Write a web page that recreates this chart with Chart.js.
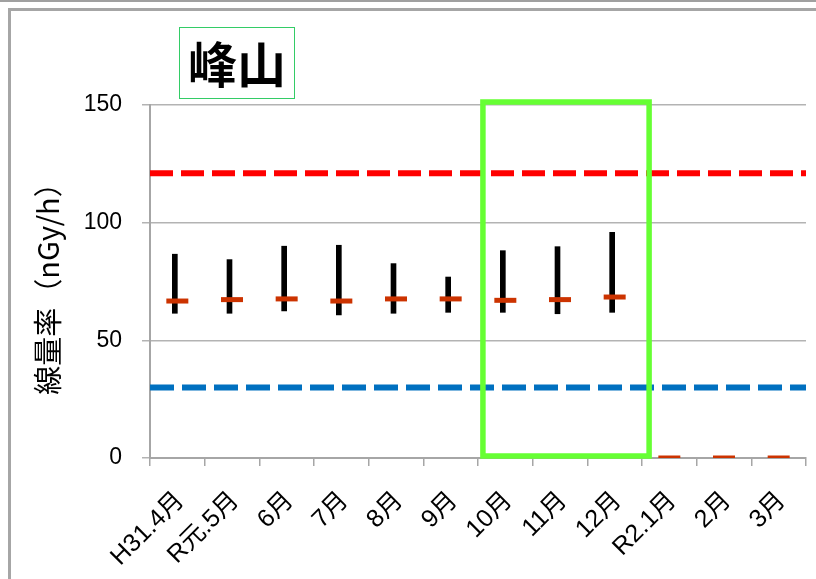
<!DOCTYPE html>
<html>
<head>
<meta charset="utf-8">
<script src="https://cdn.jsdelivr.net/npm/chart.js@4.4.1/dist/chart.umd.min.js"></script>
<style>
  html, body { margin: 0; padding: 0; background: #fff; }
  body { width: 816px; height: 579px; position: relative; overflow: hidden; }
  #wrap { position: absolute; left: 0; top: 0; width: 822px; height: 579px; }
  #topline { position: absolute; left: 0; top: 0; width: 816px; height: 2px; background: #a0a0a0; }
  #frame { position: absolute; left: 8px; top: 8px; width: 900px; height: 700px;
           border-left: 3px solid #a6a6a6; border-top: 3px solid #a6a6a6; }
  #titlebox { position: absolute; left: 179px; top: 27px; width: 114px; height: 70px;
              border: 1.5px solid #33cc66; background: #fff;
              font-family: "Noto Sans CJK JP", sans-serif; font-weight: bold; font-size: 49px;
              line-height: 68px; text-align: center; color: #000; }
</style>
</head>
<body>
<div id="topline"></div>
<div id="frame"></div>
<div id="wrap"><canvas id="c" width="822" height="579"></canvas></div>
<div id="titlebox">峰山</div>
<script>
const categories = ['H31.4月','R元.5月','6月','7月','8月','9月','10月','11月','12月','R2.1月','2月','3月'];
const minValues  = [61.5, 61.5, 62.5, 60.8, 61.5, 61.9, 61.9, 61.3, 61.9, null, null, null];
const maxValues  = [86.6, 84.3, 90.0, 90.4, 82.6, 76.9, 88.1, 89.8, 95.9, null, null, null];
const avgValues  = [66.7, 67.3, 67.6, 66.7, 67.6, 67.6, 67.0, 67.3, 68.4, 0, 0, 0];
const upperLevel = 121;
const lowerLevel = 30;
const yTicks = [0, 50, 100, 150];
const highlightFrom = '10月';
const highlightTo = '12月';
const chartTitle = '峰山';
const yTitle = '線量率（nGy/h）';

const rangeData = categories.map((c, i) => (minValues[i] == null ? null : [minValues[i], maxValues[i]]));

const highlightPlugin = {
  id: 'highlight',
  afterDatasetsDraw(chart) {
    const x = chart.scales.x, y = chart.scales.y;
    const i0 = categories.indexOf(highlightFrom), i1 = categories.indexOf(highlightTo);
    const w = x.getPixelForValue(1) - x.getPixelForValue(0);
    const left = x.getPixelForValue(i0) - 0.41 * w;
    const right = x.getPixelForValue(i1) + 0.63 * w;
    const top = y.getPixelForValue(yTicks[yTicks.length - 1]) - 3;
    const bottom = y.getPixelForValue(0) - 2;
    const ctx = chart.ctx;
    ctx.save();
    ctx.strokeStyle = '#66ff33';
    ctx.lineWidth = 5.5;
    ctx.strokeRect(left, top, right - left, bottom - top);
    ctx.restore();
  }
};

new Chart(document.getElementById('c'), {
  data: {
    labels: categories,
    datasets: [
      {
        type: 'line',
        label: '平均',
        data: avgValues,
        showLine: false,
        pointStyle: 'line',
        pointRadius: 11,
        pointHoverRadius: 11,
        pointBorderWidth: 5,
        borderColor: '#cc3300',
        backgroundColor: '#cc3300',
        clip: 0,
        order: 0
      },
      {
        type: 'bar',
        label: '範囲',
        data: rangeData,
        backgroundColor: '#000000',
        barThickness: 5,
        borderSkipped: false,
        order: 1
      },
      {
        type: 'line',
        label: '上限',
        xAxisID: 'x2',
        data: [{x: 0, y: upperLevel}, {x: 1, y: upperLevel}],
        borderColor: '#ff0000',
        borderWidth: 6,
        borderDash: [23, 8],
        borderCapStyle: 'butt',
        pointRadius: 0,
        order: 2
      },
      {
        type: 'line',
        label: '下限',
        xAxisID: 'x2',
        data: [{x: 0, y: lowerLevel}, {x: 1, y: lowerLevel}],
        borderColor: '#0070c0',
        borderWidth: 6,
        borderDash: [24, 8],
        borderCapStyle: 'butt',
        pointRadius: 0,
        order: 2
      }
    ]
  },
  options: {
    responsive: false,
    animation: false,
    devicePixelRatio: 1,
    layout: { padding: { top: 105, right: 0, left: 0, bottom: 0 } },
    plugins: {
      legend: { display: false },
      tooltip: { enabled: false },
      title: { display: false }
    },
    scales: {
      x: {
        type: 'category',
        offset: true,
        afterFit(scale) { scale.height = 121; scale.paddingRight = 0; },
        grid: {
          offset: true,
          drawOnChartArea: false,
          drawTicks: true,
          tickLength: 8,
          color: '#a6a6a6',
          lineWidth: 1.5
        },
        border: { display: true, color: '#a6a6a6', width: 2 },
        ticks: {
          autoSkip: false,
          maxRotation: 45,
          minRotation: 45,
          padding: 20,
          labelOffset: 3,
          color: '#000',
          font: { family: '"Liberation Sans", "Noto Sans CJK JP", sans-serif', size: 25 }
        }
      },
      x2: {
        type: 'linear',
        min: 0,
        max: 1,
        display: false
      },
      y: {
        min: 0,
        max: 150,
        afterFit(scale) { scale.width = 150; },
        afterBuildTicks(scale) { scale.ticks = yTicks.map(v => ({ value: v })); },
        grid: {
          color: '#b3b3b3',
          lineWidth: 1.5,
          drawTicks: true,
          tickLength: 8
        },
        border: { display: true, color: '#a6a6a6', width: 2 },
        ticks: {
          padding: 20,
          color: '#000',
          font: { family: '"Liberation Sans", sans-serif', size: 23 }
        },
        title: {
          display: true,
          text: yTitle,
          color: '#000',
          padding: { top: 31, bottom: 0 },
          font: { family: '"Noto Sans CJK JP", sans-serif', size: 29 }
        }
      }
    }
  },
  plugins: [highlightPlugin]
});
</script>
</body>
</html>
